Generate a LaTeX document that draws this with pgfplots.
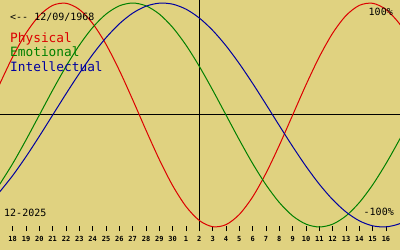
\documentclass[border=0pt]{standalone}
\usepackage{pgfplots}
\pgfplotsset{compat=1.18}
\usepackage{fontspec}
\newfontfamily\dmono{DejaVu Sans Mono}
\definecolor{bg}{RGB}{224,210,128}
\definecolor{phys}{RGB}{220,0,0}
\definecolor{emo}{RGB}{0,128,0}
\definecolor{intel}{RGB}{0,0,160}
\begin{document}
\begin{tikzpicture}
\fill[bg] (0,0) rectangle (400pt,250pt);
\begin{axis}[
  at={(0pt,19pt)}, anchor=south west,
  scale only axis, width=400pt, height=231pt,
  xmin=-0.953, xmax=29.05, ymin=-1.036, ymax=1.027,
  axis line style={draw=none},
  xtick={0,...,28},
  xticklabels={18,19,20,21,22,23,24,25,26,27,28,29,30,1,2,3,4,5,6,7,8,9,10,11,12,13,14,15,16},
  xtick pos=left,
  ytick=\empty,
  tick align=inside, major tick length=5pt,
  tick style={black, line width=1pt},
  xticklabel style={font=\dmono\bfseries\fontsize{7}{8}\selectfont, anchor=base, yshift=-10pt, inner sep=0pt},
  clip=true,
]
\addplot[black, line width=1pt] coordinates {(-2,0) (31,0)};
\addplot[black, line width=1pt] coordinates {(14,-1.036) (14,1.1)};
\addplot[phys, line width=1pt, smooth] coordinates {
(-1,0.2698) (0,0.5196) (1,0.7308) (2,0.8879) (3,0.9791) (4,0.9977) (5,0.9423) (6,0.8170)
(7,0.6311) (8,0.3984) (9,0.1362) (10,-0.1362) (11,-0.3984) (12,-0.6311) (13,-0.8170)
(14,-0.9423) (15,-0.9977) (16,-0.9791) (17,-0.8879) (18,-0.7308) (19,-0.5196) (20,-0.2698)
(21,0) (22,0.2698) (23,0.5196) (24,0.7308) (25,0.8879) (26,0.9791) (27,0.9977) (28,0.9423)
(29,0.8170) (30,0.6311)};
\addplot[emo, line width=1pt, smooth] coordinates {
(-1,-0.6235) (0,-0.4339) (1,-0.2225) (2,0) (3,0.2225) (4,0.4339) (5,0.6235) (6,0.7818)
(7,0.9010) (8,0.9749) (9,1) (10,0.9749) (11,0.9010) (12,0.7818) (13,0.6235) (14,0.4339)
(15,0.2225) (16,0) (17,-0.2225) (18,-0.4339) (19,-0.6235) (20,-0.7818) (21,-0.9010)
(22,-0.9749) (23,-1) (24,-0.9749) (25,-0.9010) (26,-0.7818) (27,-0.6235) (28,-0.4339)
(29,-0.2225) (30,0)};
\addplot[intel, line width=1pt, smooth] coordinates {
(-1,-0.6901) (0,-0.5406) (1,-0.3717) (2,-0.1893) (3,0) (4,0.1893) (5,0.3717) (6,0.5406)
(7,0.6901) (8,0.8146) (9,0.9096) (10,0.9718) (11,0.9989) (12,0.9898) (13,0.9450) (14,0.8660)
(15,0.7557) (16,0.6182) (17,0.4582) (18,0.2817) (19,0.0951) (20,-0.0951) (21,-0.2817)
(22,-0.4582) (23,-0.6182) (24,-0.7557) (25,-0.8660) (26,-0.9450) (27,-0.9898) (28,-0.9989)
(29,-0.9718) (30,-0.9096)};
\end{axis}
\node[anchor=base west, inner sep=0pt, font=\dmono\fontsize{10}{12}\selectfont] at (10pt,230pt) {<-{}- 12/09/1968};
\node[anchor=base west, inner sep=0pt, text=phys, font=\dmono\fontsize{12.8}{14}\selectfont] at (10pt,207.3pt) {Physical};
\node[anchor=base west, inner sep=0pt, text=emo, font=\dmono\fontsize{12.8}{14}\selectfont] at (10pt,193.3pt) {Emotional};
\node[anchor=base west, inner sep=0pt, text=intel, font=\dmono\fontsize{12.8}{14}\selectfont] at (10pt,178.3pt) {Intellectual};
\node[anchor=base east, inner sep=0pt, font=\dmono\fontsize{10}{12}\selectfont] at (393pt,234.3pt) {100\%};
\node[anchor=base east, inner sep=0pt, font=\dmono\fontsize{10}{12}\selectfont] at (394pt,34.3pt) {-100\%};
\node[anchor=base west, inner sep=0pt, font=\dmono\fontsize{10}{12}\selectfont] at (4pt,34pt) {12-2025};
\pgfresetboundingbox
\path (0,0) rectangle (400pt,250pt);
\end{tikzpicture}
\end{document}
